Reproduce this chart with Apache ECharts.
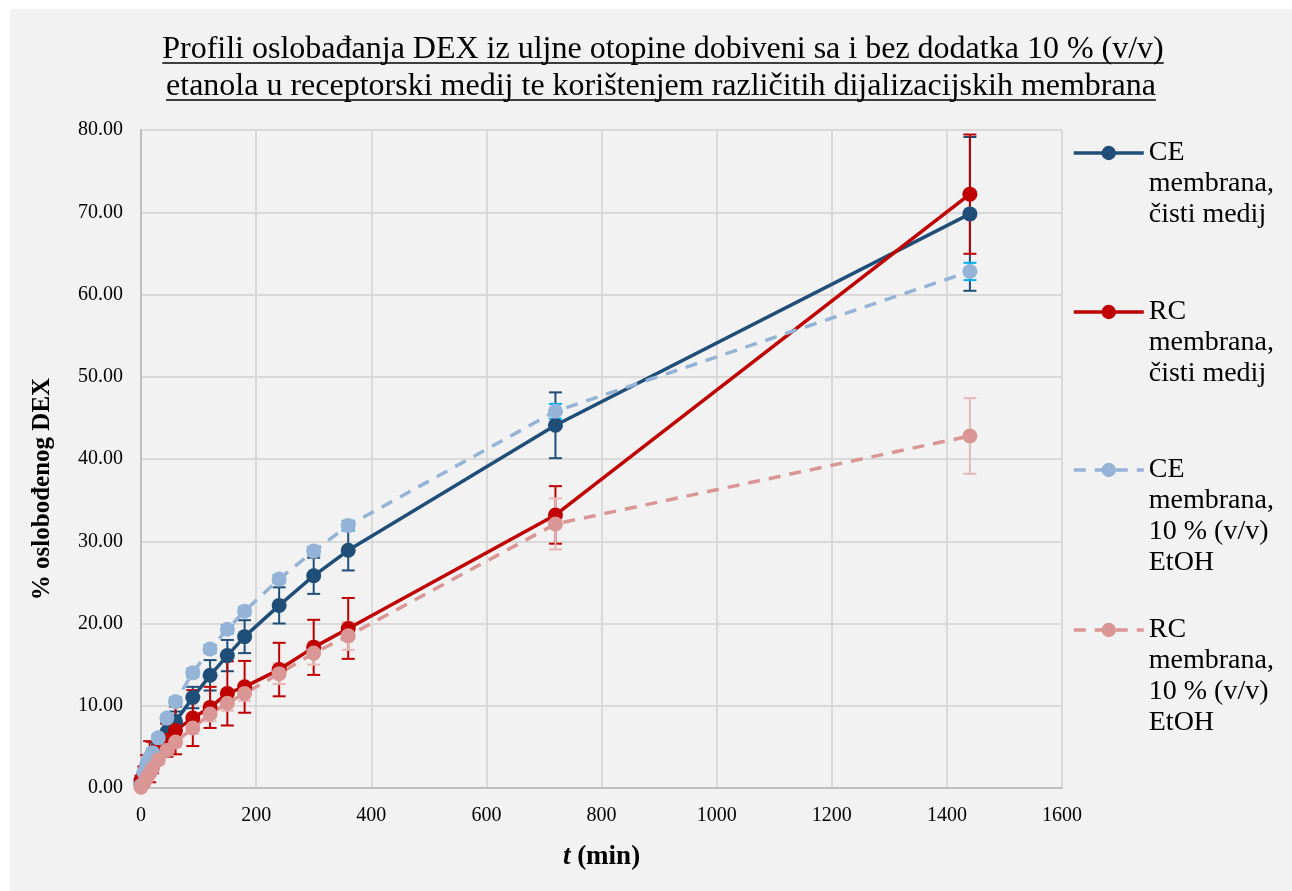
<!DOCTYPE html>
<html>
<head>
<meta charset="utf-8">
<script src="https://cdn.jsdelivr.net/npm/echarts@6/dist/echarts.min.js"></script>
<style>
html,body{margin:0;padding:0;background:#ffffff;}
#chart{position:absolute;left:10px;top:9px;width:1282px;height:882px;background:#f2f2f2;}
</style>
</head>
<body>
<div id="chart"></div>
<script>
// ---- data ----
const titleLines = [
  'Profili oslobađanja DEX iz uljne otopine dobiveni sa i bez dodatka 10 % (v/v)',
  'etanola u receptorski medij te korištenjem različitih dijalizacijskih membrana'
];
const times = [0, 5, 10, 15, 20, 30, 45, 60, 90, 120, 150, 180, 240, 300, 360, 720, 1440];
const seriesNames = [
  'CE membrana, čisti medij',
  'RC membrana, čisti medij',
  'CE membrana, 10 % (v/v) EtOH',
  'RC membrana, 10 % (v/v) EtOH'
];
const legendLabels = [
  'CE\nmembrana,\nčisti medij',
  'RC\nmembrana,\nčisti medij',
  'CE\nmembrana,\n10 % (v/v)\nEtOH',
  'RC\nmembrana,\n10 % (v/v)\nEtOH'
];
const cePure    = [0.5, 1.4, 2.3, 3.1, 3.9, 5.2, 6.8, 8.1, 11.0, 13.7, 16.1, 18.4, 22.2, 25.8, 28.9, 44.1, 69.8];
const cePureErr = [0.3, 0.5, 0.6, 0.7, 0.8, 1.0, 1.1, 1.2, 1.3, 1.85, 1.9, 2.0, 2.2, 2.2, 2.45, 4.0, 9.35];
const rcPure    = [0.9, 1.7, 2.5, 3.2, 3.7, 4.7, 5.8, 7.0, 8.5, 9.8, 11.5, 12.3, 14.4, 17.1, 19.4, 33.2, 72.2];
const rcPureErr = [0.6, 0.9, 1.5, 2.5, 1.9, 1.6, 2.0, 2.9, 3.4, 2.5, 3.9, 3.15, 3.25, 3.35, 3.7, 3.5, 7.25];
const ceEtoh    = [0.3, 1.9, 2.9, 3.7, 4.3, 6.1, 8.5, 10.5, 14.0, 16.9, 19.3, 21.5, 25.4, 28.8, 31.9, 45.8, 62.8];
const ceEtohErr = [0.1, 0.2, 0.3, 0.3, 0.3, 0.4, 0.4, 0.5, 0.5, 0.5, 0.5, 0.5, 0.5, 0.5, 0.6, 0.9, 1.05];
const rcEtoh    = [0.1, 0.6, 1.2, 1.8, 2.4, 3.4, 4.6, 5.6, 7.3, 9.0, 10.3, 11.5, 13.9, 16.4, 18.5, 32.1, 42.8];
const rcEtohErr = [0.1, 0.2, 0.3, 0.4, 0.4, 0.5, 0.6, 0.6, 0.7, 0.9, 0.9, 0.9, 1.25, 1.4, 1.7, 3.1, 4.6];

// ---- styles ----
const FONT = "'Liberation Serif', 'Times New Roman', serif";
const lineColors = ['#1F4E79', '#C00000', '#95B3D7', '#DA9694'];
const errColors  = ['#1F4E79', '#C00000', '#00B0F0', '#E6B9B8'];
const dashed = [false, false, true, true];
const values = [cePure, rcPure, ceEtoh, rcEtoh];
const errs = [cePureErr, rcPureErr, ceEtohErr, rcEtohErr];

const chart = echarts.init(document.getElementById('chart'));

function errSeries(k) {
  const color = errColors[k];
  return {
    type: 'custom',
    name: seriesNames[k] + ' err',
    silent: true,
    z: 2,
    data: times.map((t, i) => [t, values[k][i] - errs[k][i], values[k][i] + errs[k][i]]),
    encode: { x: 0, y: [1, 2] },
    renderItem: function (params, api) {
      const x = api.value(0);
      const lo = api.coord([x, api.value(1)]);
      const hi = api.coord([x, api.value(2)]);
      const w = 6.5;
      const st = { stroke: color, lineWidth: 2 };
      return {
        type: 'group',
        children: [
          { type: 'line', shape: { x1: lo[0], y1: lo[1], x2: hi[0], y2: hi[1] }, style: st },
          { type: 'line', shape: { x1: lo[0] - w, y1: lo[1], x2: lo[0] + w, y2: lo[1] }, style: st },
          { type: 'line', shape: { x1: hi[0] - w, y1: hi[1], x2: hi[0] + w, y2: hi[1] }, style: st }
        ]
      };
    }
  };
}

function lineSeries(k) {
  return {
    type: 'line',
    name: seriesNames[k],
    data: times.map((t, i) => [t, values[k][i]]),
    symbol: 'circle',
    symbolSize: 15,
    showSymbol: true,
    z: 3,
    lineStyle: { color: lineColors[k], width: 3.5, type: dashed[k] ? [12, 9] : 'solid' },
    itemStyle: { color: lineColors[k], borderWidth: 0 },
    emphasis: { disabled: true }
  };
}

const series = [];
for (let k = 0; k < 4; k++) { series.push(lineSeries(k)); series.push(errSeries(k)); }

// legends: one per item, icon aligned with first text line
const LH = 31;
const iconY = [153, 312, 470, 630];
const legends = seriesNames.map((name, k) => {
  const n = legendLabels[k].split('\n').length;
  const label = '\n'.repeat(n - 1) + legendLabels[k];
  return {
    orient: 'vertical',
    left: 1062,
    top: iconY[k] - 9 - (2 * n - 1) * LH / 2,
    padding: 0,
    itemWidth: 70,
    itemHeight: 18,
    itemGap: 0,
    selectedMode: false,
    lineStyle: { width: 3.5 },
    data: [name],
    formatter: function () { return label; },
    textStyle: { fontFamily: FONT, fontSize: 28, color: '#000', lineHeight: LH }
  };
});

// title with underline (measure text to size underline)
const TITLE_SIZE = 32;
const ctx = document.createElement('canvas').getContext('2d');
ctx.font = TITLE_SIZE + "px 'Liberation Serif'";
const titleCenterX = [653, 651];
const titleBase = [50, 87];
const graphics = [];
titleLines.forEach((txt, i) => {
  const w = ctx.measureText(txt).width;
  graphics.push({
    type: 'text', x: titleCenterX[i], y: titleBase[i] - 9, silent: true,
    style: { text: txt, fontFamily: FONT, fontSize: TITLE_SIZE, fill: '#000', align: 'center', verticalAlign: 'middle' }
  });
  graphics.push({
    type: 'line', silent: true,
    shape: { x1: titleCenterX[i] - w / 2, y1: titleBase[i] + 4, x2: titleCenterX[i] + w / 2, y2: titleBase[i] + 4 },
    style: { stroke: '#000', lineWidth: 1.5 }
  });
});

chart.setOption({
  animation: false,
  backgroundColor: '#f2f2f2',
  graphic: graphics,
  grid: { left: 131, right: 230, top: 121, bottom: 103, containLabel: false },
  legend: legends,
  xAxis: {
    type: 'value', min: 0, max: 1600, interval: 200,
    axisLine: { show: true, onZero: false, lineStyle: { color: '#bfbfbf', width: 2 } },
    axisTick: { show: false },
    splitLine: { show: true, lineStyle: { color: '#d9d9d9', width: 2 } },
    axisLabel: { color: '#000', fontFamily: FONT, fontSize: 20, margin: 18, formatter: v => String(v) },
    name: '{i|t}{b| (min)}',
    nameLocation: 'middle',
    nameGap: 56,
    nameTextStyle: {
      rich: {
        i: { fontFamily: FONT, fontSize: 27, fontWeight: 'bold', fontStyle: 'italic', color: '#000' },
        b: { fontFamily: FONT, fontSize: 27, fontWeight: 'bold', color: '#000' }
      }
    }
  },
  yAxis: {
    type: 'value', min: 0, max: 80, interval: 10,
    axisLine: { show: true, lineStyle: { color: '#bfbfbf', width: 2 } },
    axisTick: { show: false },
    splitLine: { show: true, lineStyle: { color: '#d9d9d9', width: 2 } },
    axisLabel: { color: '#000', fontFamily: FONT, fontSize: 20, margin: 18, formatter: v => v.toFixed(2) },
    name: '% oslobođenog DEX',
    nameLocation: 'middle',
    nameGap: 86,
    nameTextStyle: { fontFamily: FONT, fontSize: 25, fontWeight: 'bold', color: '#000', padding: [0, 60, 0, 0] }
  },
  series: series
});
</script>
</body>
</html>
